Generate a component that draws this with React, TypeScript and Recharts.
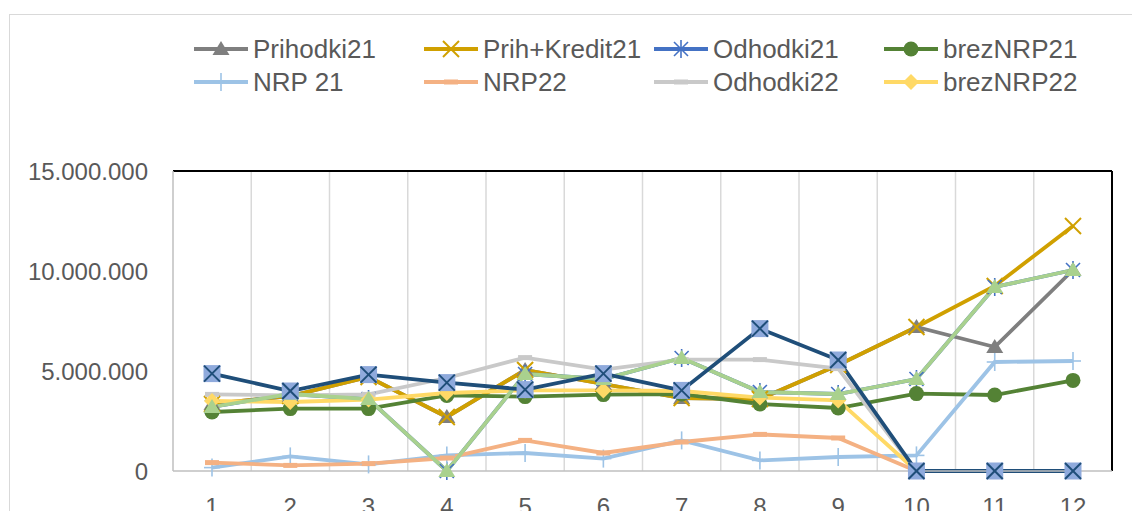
import { CartesianGrid, Legend, Line, LineChart, XAxis, YAxis } from 'recharts';

const months = ['1', '2', '3', '4', '5', '6', '7', '8', '9', '10', '11', '12'];

const prihodki21 = [3350000, 3750000, 4700000, 2700000, 5050000, 4350000, 3650000, 3600000, 5300000, 7200000, 6200000, 10050000];
const prihKredit21 = [3350000, 3750000, 4700000, 2700000, 5050000, 4350000, 3650000, 3600000, 5300000, 7200000, 9250000, 12250000];
const odhodki21 = [3200000, 3850000, 3600000, 0, 4850000, 4600000, 5650000, 3950000, 3850000, 4600000, 9200000, 10050000];
const brezNRP21 = [2950000, 3120000, 3120000, 3780000, 3720000, 3820000, 3850000, 3350000, 3150000, 3870000, 3800000, 4530000];
const nrp21 = [170000, 730000, 330000, 780000, 900000, 620000, 1530000, 530000, 700000, 780000, 5450000, 5500000];
const nrp22 = [420000, 280000, 370000, 650000, 1530000, 900000, 1450000, 1830000, 1650000, 0, null, null];
const odhodki22 = [3830000, 3780000, 3830000, 4650000, 5670000, 5070000, 5570000, 5570000, 5120000, 0, null, null];
const brezNRP22 = [3500000, 3450000, 3570000, 3900000, 4030000, 4030000, 4000000, 3670000, 3530000, 0, null, null];
// two extra series drawn in the sheet but left out of its legend
const odhodki21b = [3200000, 3850000, 3600000, 0, 4850000, 4600000, 5650000, 3950000, 3850000, 4600000, 9200000, 10050000];
const odhodki21c = [4870000, 4000000, 4820000, 4420000, 4070000, 4870000, 4030000, 7120000, 5550000, 0, 0, 0];

const yTicks = [0, 5000000, 10000000, 15000000];

type MarkerKind = 'triangle' | 'cross' | 'star' | 'circle' | 'plus' | 'dash' | 'diamond' | 'boxCross';

type Serie = { key: string; name: string; color: string; marker: MarkerKind; values: (number | null)[]; legend: boolean };

const series: Serie[] = [
  { key: 'prihodki21', name: 'Prihodki21', color: '#7F7F7F', marker: 'triangle', values: prihodki21, legend: true },
  { key: 'prihKredit21', name: 'Prih+Kredit21', color: '#D0A000', marker: 'cross', values: prihKredit21, legend: true },
  { key: 'odhodki21', name: 'Odhodki21', color: '#4472C4', marker: 'star', values: odhodki21, legend: true },
  { key: 'brezNRP21', name: 'brezNRP21', color: '#548235', marker: 'circle', values: brezNRP21, legend: true },
  { key: 'nrp21', name: 'NRP 21', color: '#9DC3E6', marker: 'plus', values: nrp21, legend: true },
  { key: 'nrp22', name: 'NRP22', color: '#F4B183', marker: 'dash', values: nrp22, legend: true },
  { key: 'odhodki22', name: 'Odhodki22', color: '#C9C9C9', marker: 'dash', values: odhodki22, legend: true },
  { key: 'brezNRP22', name: 'brezNRP22', color: '#FFD966', marker: 'diamond', values: brezNRP22, legend: true },
  { key: 'odhodki21b', name: 'Odhodki21 (2)', color: '#A9D18E', marker: 'triangle', values: odhodki21b, legend: false },
  { key: 'odhodki21c', name: 'Odhodki21 (3)', color: '#1F4E79', marker: 'boxCross', values: odhodki21c, legend: false },
];

const data = months.map((m, i) => {
  const row: Record<string, string | number | null> = { month: m };
  series.forEach(s => { row[s.key] = s.values[i]; });
  return row;
});

const FONT = '"Liberation Sans", Arial, sans-serif';
const TEXT = '#595959';

function fmt(v: number) {
  return String(v).replace(/\B(?=(\d{3})+(?!\d))/g, '.');
}

function Marker({ kind, cx, cy, color }: { kind: MarkerKind; cx: number; cy: number; color: string }) {
  switch (kind) {
    case 'triangle':
      return <polygon points={`${cx},${cy - 8} ${cx + 8.5},${cy + 6} ${cx - 8.5},${cy + 6}`} fill={color} />;
    case 'cross':
      return (
        <g stroke={color} strokeWidth={2}>
          <line x1={cx - 8} y1={cy - 8} x2={cx + 8} y2={cy + 8} />
          <line x1={cx - 8} y1={cy + 8} x2={cx + 8} y2={cy - 8} />
        </g>
      );
    case 'star':
      return (
        <g stroke={color} strokeWidth={1.6}>
          <line x1={cx - 7} y1={cy - 7} x2={cx + 7} y2={cy + 7} />
          <line x1={cx - 7} y1={cy + 7} x2={cx + 7} y2={cy - 7} />
          <line x1={cx} y1={cy - 9} x2={cx} y2={cy + 9} />
        </g>
      );
    case 'circle':
      return <circle cx={cx} cy={cy} r={7.5} fill={color} />;
    case 'plus':
      return (
        <g stroke={color} strokeWidth={1.6}>
          <line x1={cx} y1={cy - 9} x2={cx} y2={cy + 9} />
          <line x1={cx - 8} y1={cy} x2={cx + 8} y2={cy} />
        </g>
      );
    case 'dash':
      return <rect x={cx - 7} y={cy - 2.5} width={14} height={5} fill={color} />;
    case 'diamond':
      return <polygon points={`${cx},${cy - 8} ${cx + 8},${cy} ${cx},${cy + 8} ${cx - 8},${cy}`} fill={color} />;
    case 'boxCross':
      return (
        <g>
          <rect x={cx - 8.5} y={cy - 8.5} width={17} height={17} fill="#8FAADC" />
          <g stroke={color} strokeWidth={2}>
            <line x1={cx - 8} y1={cy - 8} x2={cx + 8} y2={cy + 8} />
            <line x1={cx - 8} y1={cy + 8} x2={cx + 8} y2={cy - 8} />
          </g>
        </g>
      );
  }
  return null;
}

function LegendBox() {
  return (
    <div style={{ display: 'grid', gridTemplateColumns: 'repeat(4, 230px)', gridAutoRows: '33px', fontFamily: FONT, fontSize: 26, color: TEXT }}>
      {series.filter(s => s.legend).map(s => (
        <div key={s.key} style={{ display: 'flex', alignItems: 'center' }}>
          <svg width={56} height={24} style={{ flex: 'none' }}>
            <line x1={1} x2={55} y1={12} y2={12} stroke={s.color} strokeWidth={3.8} />
            <Marker kind={s.marker} cx={28} cy={12} color={s.color} />
          </svg>
          <span style={{ marginLeft: 4, lineHeight: 1, whiteSpace: 'nowrap' }}>{s.name}</span>
        </div>
      ))}
    </div>
  );
}

export default function App() {
  return (
    <div style={{ position: 'absolute', left: 0, top: 0, width: 1132, height: 511, overflow: 'hidden', background: '#fff' }}>
      <div style={{ position: 'absolute', left: 9, top: 14, width: 1300, height: 700, border: '1.5px solid #D9D9D9' }} />
      <LineChart width={1132} height={511} data={data} margin={{ top: 171, right: 20, left: 0, bottom: 0 }} style={{ position: 'absolute', left: 0, top: 0 }}>
        <CartesianGrid
          horizontal={false}
          stroke="#D9D9D9"
          strokeWidth={1.5}
          verticalCoordinatesGenerator={({ offset }: any) =>
            months.slice(1).map((_, i) => offset.left + ((i + 1) * offset.width) / months.length)}
        />
        {/* plot-area frame: black on top and right */}
        <CartesianGrid
          vertical={false}
          stroke="#000"
          strokeWidth={2}
          horizontalCoordinatesGenerator={({ offset }: any) => [offset.top]}
        />
        <CartesianGrid
          horizontal={false}
          stroke="#000"
          strokeWidth={2}
          verticalCoordinatesGenerator={({ offset }: any) => [offset.left + offset.width]}
        />
        <XAxis dataKey="month" padding={{ left: 39, right: 39 }} height={40} tickSize={0} tickMargin={27} tickLine={false}
          axisLine={{ stroke: '#BFBFBF', strokeWidth: 1.5 }} tick={{ fontSize: 24, fill: TEXT, fontFamily: FONT }} interval={0} />
        <YAxis domain={[0, 15000000]} ticks={yTicks} width={173} tickSize={0} tickMargin={25} tickLine={false}
          axisLine={{ stroke: '#BFBFBF', strokeWidth: 1.5 }} tickFormatter={(v: number) => fmt(v)}
          tick={{ fontSize: 24, fill: TEXT, fontFamily: FONT }} />
        <Legend verticalAlign="middle" align="center" layout="horizontal" content={() => <LegendBox />}
          wrapperStyle={{ top: 32, left: 193, width: 930 }} />
        {series.map(s => (
          <Line
            key={s.key}
            dataKey={s.key}
            name={s.name}
            stroke={s.color}
            strokeWidth={3.8}
            legendType={s.legend ? 'line' : 'none'}
            isAnimationActive={false}
            dot={(p: any) =>
              p.cx == null || p.cy == null || p.value == null
                ? <g key={`${s.key}-${p.index}`} />
                : <g key={`${s.key}-${p.index}`}><Marker kind={s.marker} cx={p.cx} cy={p.cy} color={s.color} /></g>}
            activeDot={false}
          />
        ))}
      </LineChart>
    </div>
  );
}
